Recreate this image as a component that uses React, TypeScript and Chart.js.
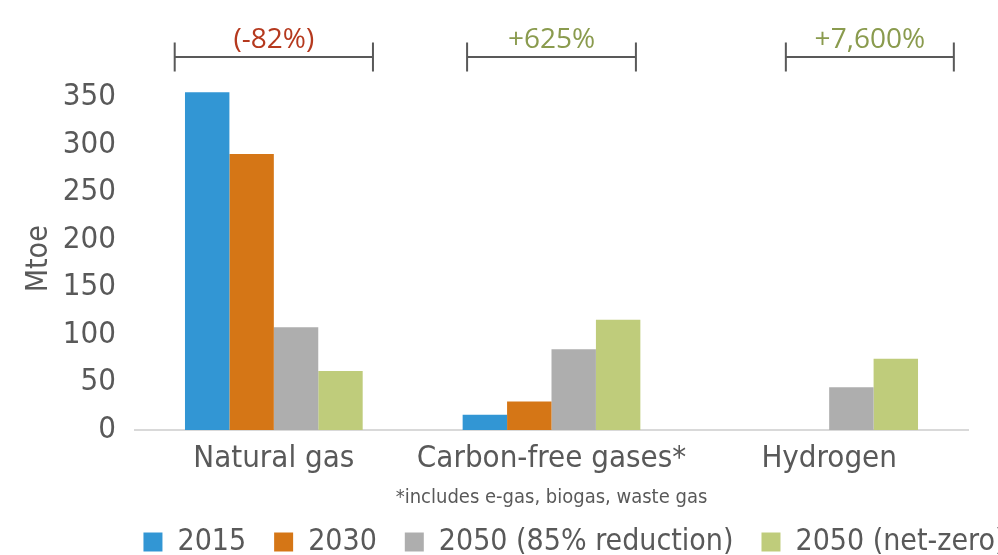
import React, { useEffect, useRef } from "react";
import { Chart, registerables } from "chart.js";

Chart.register(...registerables);

const categories = ["Natural gas", "Carbon-free gases*", "Hydrogen"];
const seriesLabels = ["2015", "2030", "2050 (85% reduction)", "2050 (net-zero)"];
const values2015 = [355, 16, null];
const values2030 = [290, 30, null];
const values2050Reduction = [108, 85, 45];
const values2050NetZero = [62, 116, 75];
const changeLabels = ["(-82%)", "+625%", "+7,600%"];
const yTicks = [0, 50, 100, 150, 200, 250, 300, 350];
const footnote = "*includes e-gas, biogas, waste gas";
const axisTitle = "Mtoe";

const COLORS = ["#3296D4", "#D57616", "#AEAEAE", "#BFCC7B"];
const CHANGE_COLORS = ["#B5391E", "#8A9B4E", "#8A9B4E"];
const BRACKET_SPANS: [number, number][] = [
  [-0.357, 0.357],
  [-0.304, 0.304],
  [-0.156, 0.449],
];
const FONT = "'DejaVu Sans Condensed', 'DejaVu Sans', sans-serif";
const TEXT = "#595959";

const CANVAS_W = 1132;

const bracketPlugin = {
  id: "brackets",
  afterDraw(chart: any) {
    const { ctx } = chart;
    const x = chart.scales.x;
    const y = chart.scales.y;
    const cat = x.getPixelForValue(1) - x.getPixelForValue(0);
    const lineY = y.getPixelForValue(392);
    const textY = y.getPixelForValue(410);
    ctx.save();
    BRACKET_SPANS.forEach((span, i) => {
      const c = x.getPixelForValue(i);
      const x0 = c + span[0] * cat;
      const x1 = c + span[1] * cat;
      ctx.strokeStyle = "#595959";
      ctx.lineWidth = 2;
      ctx.beginPath();
      ctx.moveTo(x0, lineY);
      ctx.lineTo(x1, lineY);
      ctx.moveTo(x0, lineY - 14.5);
      ctx.lineTo(x0, lineY + 14.5);
      ctx.moveTo(x1, lineY - 14.5);
      ctx.lineTo(x1, lineY + 14.5);
      ctx.stroke();
      ctx.fillStyle = CHANGE_COLORS[i];
      ctx.font = "28px 'Open Sans', sans-serif";
      ctx.textAlign = "center";
      ctx.textBaseline = "middle";
      ctx.fillText(changeLabels[i], (x0 + x1) / 2, textY);
    });
    ctx.restore();
  },
};

export default function App() {
  const ref = useRef<HTMLCanvasElement | null>(null);
  useEffect(() => {
    if (!ref.current) return;
    const data = [values2015, values2030, values2050Reduction, values2050NetZero];
    const chart = new Chart(ref.current, {
      type: "bar",
      data: {
        labels: categories,
        datasets: seriesLabels.map((label, i) => ({
          label,
          data: data[i] as any,
          backgroundColor: COLORS[i],
          borderWidth: 0,
          categoryPercentage: 0.64,
          barPercentage: 1,
        })),
      },
      options: {
        animation: false,
        responsive: true,
        maintainAspectRatio: false,
        layout: { padding: { top: 87.5, left: 17, right: 0, bottom: -12 } },
        plugins: {
          tooltip: { enabled: false },
          legend: {
            position: "bottom",
            align: "center",
            labels: {
              boxWidth: 19,
              boxHeight: 19,
              padding: 28,
              color: TEXT,
              font: { family: FONT, size: 30 },
            },
          },
        },
        scales: {
          x: {
            grid: { display: false, drawTicks: false },
            border: { display: true, color: "#D9D9D9", width: 2 },
            ticks: { color: TEXT, font: { family: FONT, size: 31 }, padding: 10, maxRotation: 0 },
            title: {
              display: true,
              text: footnote,
              color: TEXT,
              font: { family: FONT, size: 20 },
              padding: { top: 6, bottom: -11 },
            },
            afterFit(scale: any) {
              scale.height = 69;
            },
          },
          y: {
            min: 0,
            max: 360,
            grid: { display: false, drawTicks: false },
            border: { display: false },
            afterBuildTicks(scale: any) {
              scale.ticks = yTicks.map((v) => ({ value: v }));
            },
            ticks: { color: TEXT, font: { family: FONT, size: 31 }, padding: 19 },
            title: {
              display: true,
              text: axisTitle,
              color: TEXT,
              font: { family: FONT, size: 30 },
              padding: { top: 4, bottom: 4 },
            },
            afterFit(scale: any) {
              scale.width = 135 - 17;
            },
          },
          yRight: {
            position: "right",
            display: true,
            grid: { display: false, drawTicks: false },
            border: { display: false },
            ticks: { display: false },
            afterFit(scale: any) {
              scale.width = CANVAS_W - 968;
            },
          },
        },
      },
      plugins: [bracketPlugin],
    });
    return () => chart.destroy();
  }, []);
  return (
    <div style={{ position: "absolute", left: 0, top: 0, width: 998, height: 555, overflow: "hidden", background: "#fff" }}>
      <div style={{ position: "relative", width: CANVAS_W, height: 555 }}>
        <canvas ref={ref} />
      </div>
    </div>
  );
}
